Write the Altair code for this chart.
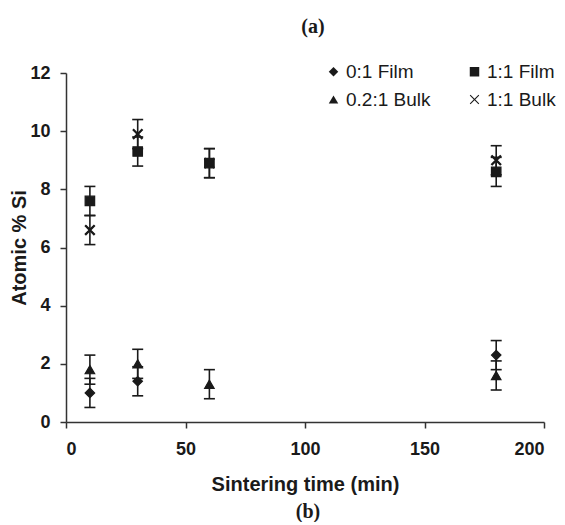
import altair as alt
import pandas as pd

# ---- data ----
# legend lays entries out column by column, so this order gives
# row 1: 0:1 Film, 1:1 Film / row 2: 0.2:1 Bulk, 1:1 Bulk
series_names = ["0:1 Film", "0.2:1 Bulk", "1:1 Film", "1:1 Bulk"]
x_path = ("M-1,-0.84L-0.84,-1L0,-0.16L0.84,-1L1,-0.84L0.16,0L1,0.84L0.84,1"
          "L0,0.16L-0.84,1L-1,0.84L-0.16,0Z")
series_shapes = ["diamond", "triangle-up", "square", x_path]

time_01_film = [10, 30, 180]
si_01_film = [1.0, 1.4, 2.3]
err_01_film = [0.5, 0.5, 0.5]

time_11_film = [10, 30, 60, 180]
si_11_film = [7.6, 9.3, 8.9, 8.6]
err_11_film = [0.5, 0.5, 0.5, 0.5]

time_02_bulk = [10, 30, 60, 180]
si_02_bulk = [1.8, 2.0, 1.3, 1.6]
err_02_bulk = [0.5, 0.5, 0.5, 0.5]

time_11_bulk = [10, 30, 60, 180]
si_11_bulk = [6.6, 9.9, 8.9, 9.0]
err_11_bulk = [0.5, 0.5, 0.5, 0.5]

x_ticks = [0, 50, 100, 150, 200]
y_ticks = [0, 2, 4, 6, 8, 10, 12]

rows = []
for name, ts, vs, es in [
    ("0:1 Film", time_01_film, si_01_film, err_01_film),
    ("1:1 Film", time_11_film, si_11_film, err_11_film),
    ("0.2:1 Bulk", time_02_bulk, si_02_bulk, err_02_bulk),
    ("1:1 Bulk", time_11_bulk, si_11_bulk, err_11_bulk),
]:
    for t, v, e in zip(ts, vs, es):
        rows.append({"series": name, "time": t, "si": v, "lo": v - e, "hi": v + e})
df = pd.DataFrame(rows)

FONT = "Liberation Sans"
INK = "#1a1a1a"

x_enc = alt.X("time:Q", title="Sintering time (min)",
              scale=alt.Scale(domain=[0, 200], nice=False),
              axis=alt.Axis(values=x_ticks, labelPadding=12, titlePadding=16))
y_enc = alt.Y("si:Q", title="Atomic % Si",
              scale=alt.Scale(domain=[0, 12], nice=False),
              axis=alt.Axis(values=y_ticks, labelPadding=10, titlePadding=0,
                            titleFontSize=20))

base = alt.Chart(df)

bars = base.mark_rule(color=INK, strokeWidth=1.6).encode(
    x=x_enc, y=alt.Y("lo:Q"), y2="hi:Q")
cap_lo = base.mark_rule(color=INK, strokeWidth=1.6, xOffset=-5.5, x2Offset=5.5).encode(
    x="time:Q", x2="time:Q", y="lo:Q")
cap_hi = base.mark_rule(color=INK, strokeWidth=1.6, xOffset=-5.5, x2Offset=5.5).encode(
    x="time:Q", x2="time:Q", y="hi:Q")

points = base.mark_point(filled=True, color=INK, stroke=INK, strokeWidth=1.2,
                         opacity=1, size=90).encode(
    x=x_enc, y=y_enc,
    shape=alt.Shape("series:N",
                    scale=alt.Scale(domain=series_names, range=series_shapes),
                    legend=alt.Legend(title=None, orient="none", legendX=258, legendY=-11,
                                      columns=2, columnPadding=34, rowPadding=8,
                                      labelFont=FONT, labelFontSize=19, labelColor=INK,
                                      labelOffset=3, padding=0, labelLimit=300,
                                      symbolSize=90, symbolFillColor=INK,
                                      symbolStrokeColor=INK, symbolStrokeWidth=1.2)),
)

panel_labels = pd.DataFrame({"label": ["(a)", "(b)"]})
lab_a = alt.Chart(panel_labels).transform_filter(alt.datum.label == "(a)").mark_text(
    font="Liberation Serif", fontWeight="bold", fontSize=20, color=INK, baseline="middle"
).encode(text="label:N", x=alt.value(247), y=alt.value(-46))
lab_b = alt.Chart(panel_labels).transform_filter(alt.datum.label == "(b)").mark_text(
    font="Liberation Serif", fontWeight="bold", fontSize=20, color=INK, baseline="middle"
).encode(text="label:N", x=alt.value(242), y=alt.value(439))

chart = alt.layer(bars, cap_lo, cap_hi, points, lab_a, lab_b).properties(
    width=478, height=349,
    autosize=alt.AutoSizeParams(type="none"),
    padding={"left": 58, "top": 65, "right": 13, "bottom": 100},
).configure_view(stroke=None).configure_axis(
    grid=False, domainColor="#333", domainWidth=1.5, tickColor="#333", tickWidth=1.5,
    tickSize=6, labelFont=FONT, labelFontWeight="bold", labelFontSize=18, labelColor=INK,
    titleFont=FONT, titleFontWeight="bold", titleFontSize=20, titleColor=INK,
)

chart.save("out.html", embed_options={"renderer": "svg", "actions": False})
